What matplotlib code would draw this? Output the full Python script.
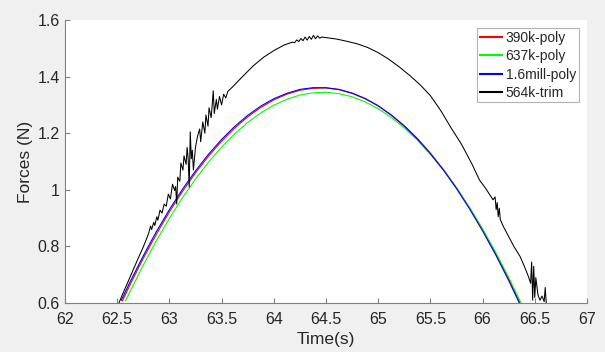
import matplotlib
matplotlib.use("Agg")
import matplotlib.pyplot as plt

# red: 390k-poly
t_390k = [62.55, 62.625, 62.75, 62.875, 63.0, 63.125, 63.25, 63.375, 63.5, 63.625,
          63.75, 63.875, 64.0, 64.125, 64.25, 64.375, 64.5, 64.625, 64.75, 64.875,
          65.0, 65.125, 65.25, 65.375, 65.5, 65.625, 65.75, 65.875, 66.0, 66.125,
          66.25, 66.375]
f_390k = [0.608, 0.666, 0.758, 0.843, 0.922, 0.994, 1.060, 1.119, 1.172, 1.218,
          1.258, 1.291, 1.318, 1.338, 1.352, 1.359, 1.360, 1.354, 1.341, 1.322,
          1.297, 1.265, 1.227, 1.182, 1.130, 1.072, 1.008, 0.937, 0.860, 0.776,
          0.685, 0.588]

# green: 637k-poly
t_637k = [62.58, 62.625, 62.75, 62.875, 63.0, 63.125, 63.25, 63.375, 63.5, 63.625,
          63.75, 63.875, 64.0, 64.125, 64.25, 64.375, 64.5, 64.625, 64.75, 64.875,
          65.0, 65.125, 65.25, 65.375, 65.5, 65.625, 65.75, 65.875, 66.0, 66.125,
          66.25, 66.4]
f_637k = [0.608, 0.642, 0.734, 0.820, 0.899, 0.972, 1.038, 1.098, 1.151, 1.198,
          1.238, 1.272, 1.299, 1.320, 1.335, 1.343, 1.345, 1.340, 1.329, 1.311,
          1.287, 1.256, 1.219, 1.176, 1.126, 1.070, 1.007, 0.938, 0.862, 0.780,
          0.691, 0.576]

# blue: 1.6mill-poly
t_16m = [62.54, 62.625, 62.75, 62.875, 63.0, 63.125, 63.25, 63.375, 63.5, 63.625,
         63.75, 63.875, 64.0, 64.125, 64.25, 64.375, 64.5, 64.625, 64.75, 64.875,
         65.0, 65.125, 65.25, 65.375, 65.5, 65.625, 65.75, 65.875, 66.0, 66.125,
         66.25, 66.37]
f_16m = [0.610, 0.676, 0.767, 0.852, 0.930, 1.002, 1.067, 1.126, 1.178, 1.224,
         1.263, 1.296, 1.322, 1.341, 1.355, 1.361, 1.361, 1.355, 1.342, 1.323,
         1.297, 1.264, 1.225, 1.180, 1.128, 1.070, 1.005, 0.933, 0.855, 0.771,
         0.680, 0.586]

# black: 564k-trim (measured, noisy)
t_564k = [62.50, 62.55, 62.60, 62.65, 62.70, 62.75, 62.80, 62.82, 62.83, 62.85,
          62.86, 62.88, 62.89, 62.91, 62.93, 62.95, 62.97, 62.99, 63.01, 63.03,
          63.05, 63.06, 63.07, 63.08, 63.10, 63.11, 63.13, 63.14, 63.16, 63.17,
          63.18, 63.19, 63.20, 63.21, 63.22, 63.23, 63.25, 63.27, 63.29, 63.30,
          63.32, 63.34, 63.35, 63.37, 63.38, 63.40, 63.41, 63.42, 63.43, 63.45,
          63.46, 63.48, 63.50, 63.52, 63.54, 63.56, 63.60, 63.70, 63.80, 63.90,
          64.00, 64.10, 64.18, 64.20, 64.22, 64.24, 64.26, 64.28, 64.30, 64.32,
          64.34, 64.36, 64.38, 64.40, 64.42, 64.44, 64.46, 64.50, 64.60, 64.70,
          64.80, 64.90, 65.00, 65.10, 65.20, 65.30, 65.40, 65.50, 65.60, 65.70,
          65.80, 65.90, 65.97, 65.99, 66.03, 66.07, 66.10, 66.12, 66.13, 66.14,
          66.15, 66.16, 66.17, 66.20, 66.25, 66.30, 66.36, 66.40, 66.44, 66.46,
          66.47, 66.48, 66.49, 66.50, 66.51, 66.53, 66.55, 66.57, 66.59, 66.60,
          66.61, 66.62]
f_564k = [0.585, 0.630, 0.672, 0.715, 0.757, 0.798, 0.845, 0.872, 0.860, 0.885,
          0.874, 0.905, 0.893, 0.928, 0.918, 0.950, 0.942, 0.985, 0.968, 1.020,
          0.998, 1.012, 0.950, 1.045, 1.030, 1.095, 1.070, 1.120, 1.090, 1.150,
          1.110, 1.010, 1.205, 1.110, 1.140, 1.070, 1.150, 1.190, 1.215, 1.170,
          1.240, 1.200, 1.265, 1.225, 1.290, 1.255, 1.300, 1.350, 1.270, 1.320,
          1.285, 1.330, 1.300, 1.338, 1.325, 1.348, 1.362, 1.400, 1.437, 1.468,
          1.492, 1.512, 1.522, 1.520, 1.530, 1.524, 1.535, 1.527, 1.540, 1.529,
          1.542, 1.532, 1.546, 1.534, 1.544, 1.536, 1.540, 1.538, 1.533, 1.525,
          1.516, 1.503, 1.485, 1.462, 1.435, 1.405, 1.372, 1.333, 1.280, 1.218,
          1.160, 1.090, 1.035, 1.025, 1.005, 0.982, 0.965, 0.975, 0.930, 0.955,
          0.905, 0.935, 0.895, 0.870, 0.835, 0.800, 0.764, 0.730, 0.693, 0.670,
          0.745, 0.610, 0.730, 0.620, 0.690, 0.630, 0.610, 0.625, 0.605, 0.655,
          0.600, 0.590]

x_ticks = [62, 62.5, 63, 63.5, 64, 64.5, 65, 65.5, 66, 66.5, 67]
y_ticks = [0.6, 0.8, 1.0, 1.2, 1.4, 1.6]

plt.rcParams["font.family"] = ["Liberation Sans", "DejaVu Sans"]
txt = "#262626"
axc = "#808080"

fig = plt.figure(figsize=(6.05, 3.52), dpi=100, facecolor="#f0f0f0")
ax = fig.add_axes([0.1074, 0.139, 0.8628, 0.804])
ax.set_facecolor("white")

ax.plot(t_390k, f_390k, color="#ff0000", lw=0.8, label="390k-poly")
ax.plot(t_637k, f_637k, color="#00ff00", lw=0.8, label="637k-poly")
ax.plot(t_16m, f_16m, color="#0000ff", lw=0.8, label="1.6mill-poly")
ax.plot(t_564k, f_564k, color="#000000", lw=0.75, label="564k-trim")

ax.set_xlim(62, 67)
ax.set_ylim(0.6, 1.6)
ax.set_xticks(x_ticks)
ax.set_xticklabels([f"{v:g}" for v in x_ticks])
ax.set_yticks(y_ticks)
ax.set_yticklabels([f"{v:g}" for v in y_ticks])

for s in ["top", "right"]:
    ax.spines[s].set_visible(False)
for s in ["left", "bottom"]:
    ax.spines[s].set_color(axc)
    ax.spines[s].set_linewidth(0.8)
ax.tick_params(direction="in", length=3.5, width=0.8, color=axc,
               labelcolor=txt, labelsize=11.5)
ax.tick_params(axis="x", pad=6.5)
ax.tick_params(axis="y", pad=3.6)

ax.set_xlabel("Time(s)", fontsize=12.5, color=txt, labelpad=3.5)
ax.set_ylabel("Forces (N)", fontsize=12.5, color=txt, labelpad=3)

leg = ax.legend(loc="upper right", fontsize=10, frameon=True, fancybox=False,
                borderaxespad=0.6, handlelength=1.6, handletextpad=0.25,
                labelspacing=0.3, borderpad=0.2)
leg.get_frame().set_edgecolor("#a0a0a0")
leg.get_frame().set_linewidth(0.8)
for line in leg.get_lines():
    line.set_linewidth(1.5)
for t in leg.get_texts():
    t.set_color(txt)

fig.savefig("out.png", dpi=100, facecolor=fig.get_facecolor())
